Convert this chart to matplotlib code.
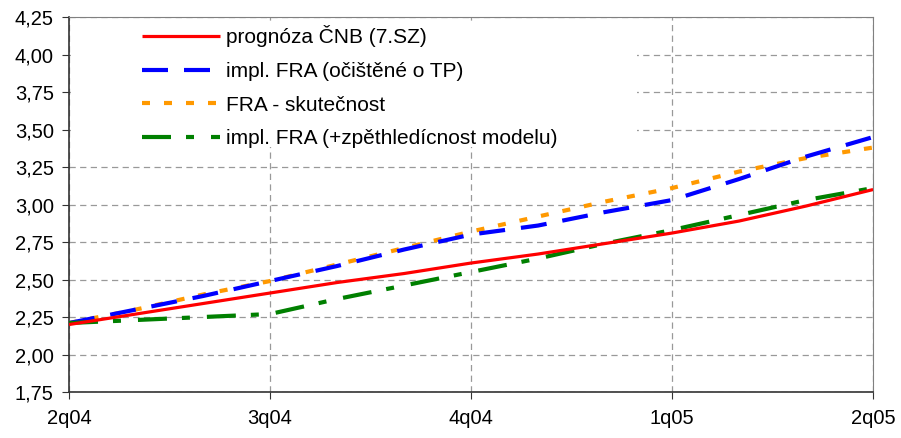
import numpy as np
import matplotlib.pyplot as plt
from matplotlib.patches import Rectangle
from matplotlib.ticker import FuncFormatter

plt.rcParams['font.family'] = ['Liberation Sans', 'DejaVu Sans']

# monthly steps from 2q04 to 2q05
months = np.arange(13)
quarter_labels = ['2q04', '3q04', '4q04', '1q05', '2q05']

prognoza_cnb = [2.20, 2.27, 2.34, 2.41, 2.48, 2.54, 2.61, 2.67, 2.74, 2.81, 2.89, 2.99, 3.10]
fra_ocistene = [2.21, 2.30, 2.39, 2.49, 2.59, 2.70, 2.80, 2.86, 2.95, 3.03, 3.17, 3.32, 3.45]
fra_skutecnost = [2.21, 2.30, 2.40, 2.49, 2.60, 2.71, 2.82, 2.92, 3.02, 3.11, 3.22, 3.31, 3.38]
fra_zpetna = [2.21, 2.23, 2.25, 2.27, 2.37, 2.46, 2.55, 2.64, 2.74, 2.83, 2.93, 3.03, 3.11]

fig = plt.figure(figsize=(9.01, 4.38), dpi=100)
ax = fig.add_axes([0.0766, 0.105, 0.8924, 0.856])

lw = 3.0
def px(v):
    # dash length in pixels -> linewidth units
    return v * 0.72 / lw

ax.plot(months, prognoza_cnb, color='#FF0000', lw=2.3, solid_capstyle='butt',
        label='prognóza ČNB (7.SZ)', zorder=5)
ax.plot(months, fra_ocistene, color='#0000FF', lw=lw, dashes=(px(26), px(16)),
        label='impl. FRA (očištěné o TP)', zorder=4)
ax.plot(months, fra_skutecnost, color='#FF9900', lw=lw, dashes=(px(8), px(14)),
        label='FRA - skutečnost', zorder=3)
ax.plot(months, fra_zpetna, color='#008000', lw=lw,
        dashes=(px(29), px(15), px(8), px(17)),
        label='impl. FRA (+zpěthledícnost modelu)', zorder=4)

ax.set_xlim(0, 12)
ax.set_ylim(1.75, 4.25)
ax.set_xticks(months[::3])
ax.set_xticklabels(quarter_labels)
ax.set_yticks(np.arange(1.75, 4.26, 0.25))
ax.yaxis.set_major_formatter(FuncFormatter(lambda v, p: f'{v:.2f}'.replace('.', ',')))

ax.grid(True, color='#999999', linestyle=(0, (5, 3.5)), linewidth=0.9, zorder=0)
ax.set_axisbelow(True)

for s in ['top', 'right']:
    ax.spines[s].set_color('#808080')
for s in ['left', 'bottom']:
    ax.spines[s].set_color('#333333')
    ax.spines[s].set_linewidth(1.2)

ax.tick_params(axis='both', labelsize=14.5, length=5, color='#333333')
ax.tick_params(axis='x', pad=7)
ax.tick_params(axis='y', pad=6)

# white legend area covering the grid
ax.add_patch(Rectangle((0.002, 0.653), 0.704, 0.333, transform=ax.transAxes,
                       facecolor='white', edgecolor='none', zorder=1))

leg = ax.legend(loc='upper left', bbox_to_anchor=(0.081, 1.0), frameon=False,
                fontsize=15, handlelength=3.7, handletextpad=0.3,
                labelspacing=0.70, borderaxespad=0)

fig.savefig('out.png', dpi=100)
